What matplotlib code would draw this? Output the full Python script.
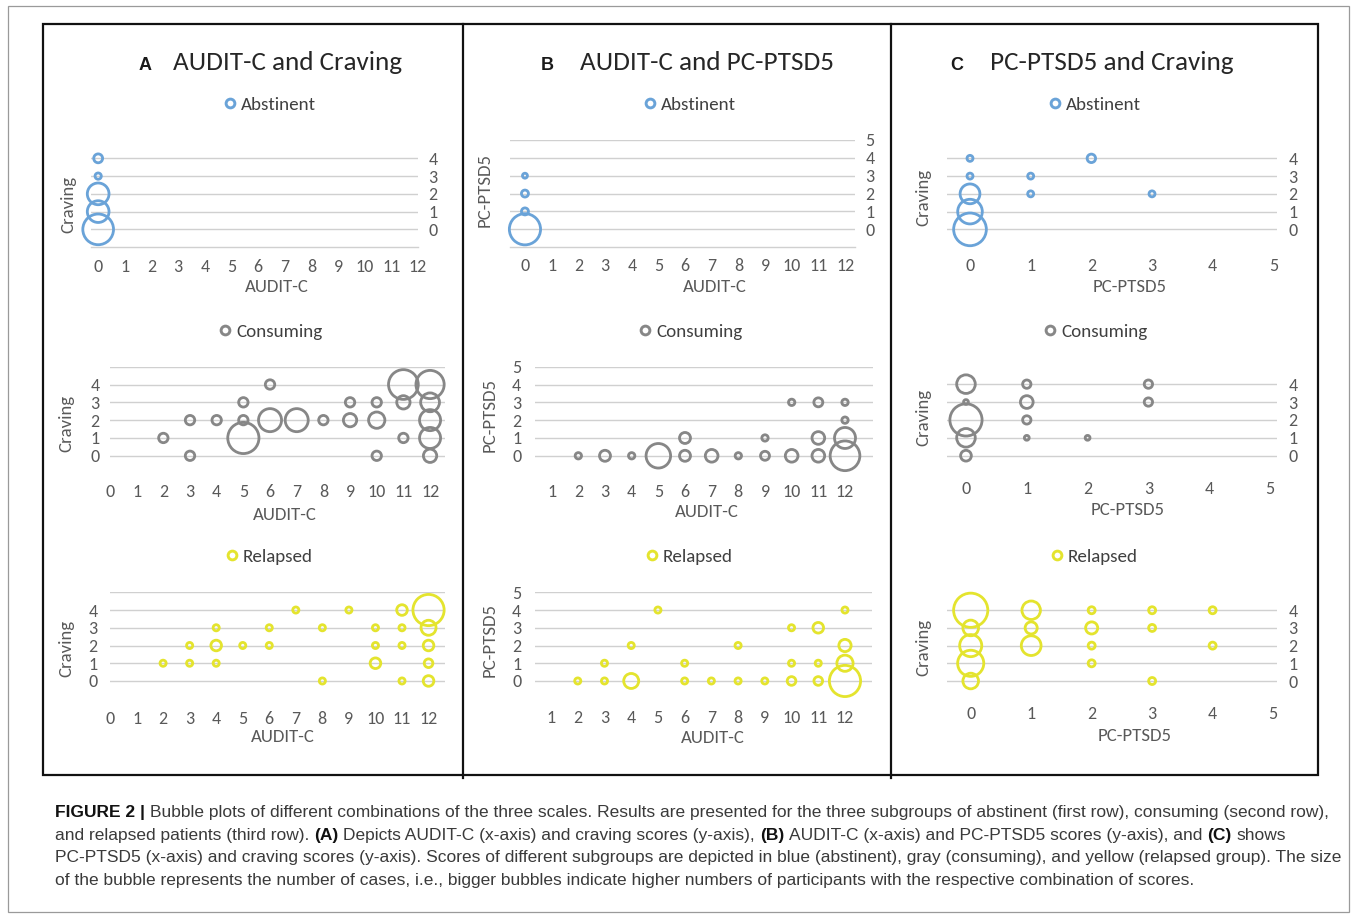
import matplotlib
matplotlib.use("Agg")
import matplotlib.pyplot as plt
from matplotlib.lines import Line2D
from matplotlib.patches import Rectangle
from matplotlib import font_manager as fm

W, H, DPI = 1357, 918, 100

# ----------------------------- data -----------------------------
# counts = number of cases at each score combination (bubble area)
# Panel A: AUDIT-C (x) vs Craving (y)
A_abst_x = [0, 0, 0, 0, 0]
A_abst_y = [4, 3, 2, 1, 0]
A_abst_n = [2, 1, 12, 12, 24]

A_cons_x = [2, 3, 3, 4, 5, 5, 5, 6, 6, 7, 8, 9, 9, 10, 10, 10, 11, 11, 11, 12, 12, 12, 12, 12]
A_cons_y = [1, 2, 0, 2, 3, 2, 1, 4, 2, 2, 2, 3, 2, 3, 2, 0, 4, 3, 1, 4, 3, 2, 1, 0]
A_cons_n = [1, 1, 1, 1, 1, 1, 11, 1, 6, 6, 1, 1, 2, 1, 3, 1, 10, 2, 1, 9, 4, 5, 5, 2]

A_rel_x = [2, 3, 3, 4, 4, 4, 5, 6, 6, 7, 8, 8, 9, 10, 10, 10, 11, 11, 11, 11, 12, 12, 12, 12, 12]
A_rel_y = [1, 2, 1, 3, 2, 1, 2, 3, 2, 4, 3, 0, 4, 3, 2, 1, 4, 3, 2, 0, 4, 3, 2, 1, 0]
A_rel_n = [1, 1, 1, 1, 3, 1, 1, 1, 1, 1, 1, 1, 1, 1, 1, 3, 3, 1, 1, 1, 26, 6, 3, 2, 3]

# Panel B: AUDIT-C (x) vs PC-PTSD5 (y)
B_abst_x = [0, 0, 0, 0]
B_abst_y = [3, 2, 1, 0]
B_abst_n = [1, 2, 2, 40]

B_cons_x = [2, 3, 4, 5, 6, 6, 7, 8, 9, 9, 10, 10, 11, 11, 11, 12, 12, 12, 12]
B_cons_y = [0, 0, 0, 0, 1, 0, 0, 0, 1, 0, 3, 0, 3, 1, 0, 3, 2, 1, 0]
B_cons_n = [1, 3, 1, 15, 3, 3, 4, 1, 1, 2, 1, 4, 2, 4, 4, 1, 1, 11, 22]

B_rel_x = [2, 3, 3, 4, 4, 5, 6, 6, 7, 8, 8, 9, 10, 10, 10, 11, 11, 11, 12, 12, 12, 12]
B_rel_y = [0, 1, 0, 2, 0, 4, 1, 0, 0, 2, 0, 0, 3, 1, 0, 3, 1, 0, 4, 2, 1, 0]
B_rel_n = [1, 1, 1, 1, 6, 1, 1, 1, 1, 1, 1, 1, 1, 1, 2, 3, 1, 2, 1, 4, 7, 26]

# Panel C: PC-PTSD5 (x) vs Craving (y)
C_abst_x = [0, 0, 0, 0, 0, 1, 1, 2, 3]
C_abst_y = [4, 3, 2, 1, 0, 3, 2, 4, 2]
C_abst_n = [1, 1, 11, 17, 30, 1, 1, 2, 1]

C_cons_x = [0, 0, 0, 0, 0, 1, 1, 1, 1, 2, 3, 3]
C_cons_y = [4, 3, 2, 1, 0, 4, 3, 2, 1, 1, 4, 3]
C_cons_n = [15, 1, 45, 15, 5, 3, 7, 3, 1, 1, 3, 3]

C_rel_x = [0, 0, 0, 0, 0, 1, 1, 1, 2, 2, 2, 2, 3, 3, 3, 4, 4]
C_rel_y = [4, 3, 2, 1, 0, 4, 3, 2, 4, 3, 2, 1, 4, 3, 0, 4, 2]
C_rel_n = [24, 5, 10, 14, 5, 7, 3, 8, 1, 3, 1, 1, 1, 1, 1, 1, 1]

GROUPS = ["Abstinent", "Consuming", "Relapsed"]
COLORS = {"Abstinent": "#6aa3d8", "Consuming": "#878787", "Relapsed": "#e4e42e"}
AUDIT_TICKS_0 = list(range(0, 13))
AUDIT_TICKS_1 = list(range(1, 13))
PTSD_X_TICKS = list(range(0, 6))
CRAVING_LEVELS = [0, 1, 2, 3, 4]
PTSD_LEVELS = [0, 1, 2, 3, 4, 5]
TITLES = {"A": "AUDIT-C and Craving", "B": "AUDIT-C and PC-PTSD5", "C": "PC-PTSD5 and Craving"}
XLABELS = {"A": "AUDIT-C", "B": "AUDIT-C", "C": "PC-PTSD5"}
YLABELS = {"A": "Craving", "B": "PC-PTSD5", "C": "Craving"}

CAPTION = [
    [("FIGURE 2 |", "bold", False),
     ("Bubble plots of different combinations of the three scales. Results are presented for the three "
      "subgroups of abstinent (first row), consuming (second row),", "normal", True)],
    [("and relapsed patients (third row).", "normal", False), ("(A)", "bold", True),
     ("Depicts AUDIT-C (x-axis) and craving scores (y-axis),", "normal", True), ("(B)", "bold", True),
     ("AUDIT-C (x-axis) and PC-PTSD5 scores (y-axis), and", "normal", True), ("(C)", "bold", True),
     ("shows", "normal", True)],
    [("PC-PTSD5 (x-axis) and craving scores (y-axis). Scores of different subgroups are depicted in blue "
      "(abstinent), gray (consuming), and yellow (relapsed group). The size", "normal", False)],
    [("of the bubble represents the number of cases, i.e., bigger bubbles indicate higher numbers of "
      "participants with the respective combination of scores.", "normal", False)],
]

# ----------------------------- fonts -----------------------------
names = {f.name for f in fm.fontManager.ttflist}
FONT = [f for f in ["Carlito", "Lato", "DejaVu Sans"] if f in names]
CAP_FONT = [f for f in ["Liberation Sans Narrow", "Liberation Sans", "DejaVu Sans"] if f in names]
BOLD_FONT = [f for f in ["Liberation Sans", "DejaVu Sans"] if f in names]
plt.rcParams["font.family"] = FONT

TICK_COLOR = "#595959"
GRID_COLOR = "#d0d0d0"

fig = plt.figure(figsize=(W / DPI, H / DPI), dpi=DPI)
fig.patch.set_facecolor("white")
renderer = fig.canvas.get_renderer()


def fx(x):
    return x / W


def fy(y):
    return 1 - y / H


# ----------------------------- panel layout -----------------------------
# box = (left, right, top, bottom) in pixels
PANELS = [
    dict(col="A", g="Abstinent", x=A_abst_x, y=A_abst_y, n=A_abst_n, box=(90.7, 418, 150, 247.3),
         xlim=(-0.28, 11.93), ylim=(-1.01, 4.47), xt=AUDIT_TICKS_0, grid=CRAVING_LEVELS, ylab=CRAVING_LEVELS,
         side="right", base=True, xpad=19.4, ypad=15, ylc=(68, 204), xlc=(277, 287), leg=(230, 105), dmax=33.5),
    dict(col="B", g="Abstinent", x=B_abst_x, y=B_abst_y, n=B_abst_n, box=(510, 855, 140, 247.3),
         xlim=(-0.56, 12.36), ylim=(-1.01, 5.0), xt=AUDIT_TICKS_0, grid=PTSD_LEVELS, ylab=PTSD_LEVELS,
         side="right", base=True, xpad=17.7, ypad=15, ylc=(485, 190), xlc=(715, 287), leg=(650, 105), dmax=34),
    dict(col="C", g="Abstinent", x=C_abst_x, y=C_abst_y, n=C_abst_n, box=(946.7, 1276.7, 150, 247.3),
         xlim=(-0.384, 5.055), ylim=(-1.01, 4.47), xt=PTSD_X_TICKS, grid=CRAVING_LEVELS, ylab=CRAVING_LEVELS,
         side="right", base=False, xpad=17.7, ypad=16.3, ylc=(923, 197), xlc=(1130, 287), leg=(1055, 105), dmax=35.5),
    dict(col="A", g="Consuming", x=A_cons_x, y=A_cons_y, n=A_cons_n, box=(110, 445, 366.7, 473.6),
         xlim=(0.063, 12.56), ylim=(-1, 5), xt=AUDIT_TICKS_0, grid=PTSD_LEVELS, ylab=CRAVING_LEVELS,
         side="left", base=False, xpad=18.1, ypad=15, ylc=(66.7, 423), xlc=(285, 515), leg=(225, 331.7), dmax=34),
    dict(col="B", g="Consuming", x=B_cons_x, y=B_cons_y, n=B_cons_n, box=(535, 873, 366.7, 473.6),
         xlim=(0.375, 13.05), ylim=(-1, 5), xt=AUDIT_TICKS_1, grid=PTSD_LEVELS, ylab=PTSD_LEVELS,
         side="left", base=False, xpad=18.1, ypad=18.3, ylc=(490, 415), xlc=(707, 512), leg=(645, 331.7), dmax=32.5),
    dict(col="C", g="Consuming", x=C_cons_x, y=C_cons_y, n=C_cons_n, box=(946.7, 1276.7, 375.2, 473.6),
         xlim=(-0.317, 5.11), ylim=(-1, 4.5), xt=PTSD_X_TICKS, grid=CRAVING_LEVELS, ylab=CRAVING_LEVELS,
         side="right", base=False, xpad=14.4, ypad=16.3, ylc=(923, 417), xlc=(1128, 510), leg=(1050, 331.7), dmax=35),
    dict(col="A", g="Relapsed", x=A_rel_x, y=A_rel_y, n=A_rel_n, box=(110, 445, 592.3, 698.7),
         xlim=(0.064, 12.62), ylim=(-1, 5), xt=AUDIT_TICKS_0, grid=PTSD_LEVELS, ylab=CRAVING_LEVELS,
         side="left", base=False, xpad=19, ypad=17, ylc=(66.7, 648), xlc=(283, 737), leg=(231.7, 556.7), dmax=34),
    dict(col="B", g="Relapsed", x=B_rel_x, y=B_rel_y, n=B_rel_n, box=(535, 871.7, 592.3, 698.7),
         xlim=(0.40, 13.0), ylim=(-1, 5), xt=AUDIT_TICKS_1, grid=PTSD_LEVELS, ylab=PTSD_LEVELS,
         side="left", base=False, xpad=18, ypad=18.3, ylc=(490, 640), xlc=(713, 738), leg=(651.7, 556.7), dmax=34),
    dict(col="C", g="Relapsed", x=C_rel_x, y=C_rel_y, n=C_rel_n, box=(946.7, 1276.7, 601.4, 698.7),
         xlim=(-0.397, 5.06), ylim=(-1, 4.5), xt=PTSD_X_TICKS, grid=CRAVING_LEVELS, ylab=CRAVING_LEVELS,
         side="right", base=False, xpad=14.3, ypad=16.3, ylc=(923, 647), xlc=(1135, 736), leg=(1056.7, 556.7), dmax=37),
]

LW_PX = 2.8
TICK_FS = 13
LABEL_FS = 13.5
LEG_FS = 13.7

for p in PANELS:
    l, r, t, b = p["box"]
    ax = fig.add_axes([fx(l), fy(b), (r - l) / W, (b - t) / H])
    ax.set_facecolor("none")
    ax.set_xlim(*p["xlim"])
    ax.set_ylim(*p["ylim"])
    for s in ax.spines.values():
        s.set_visible(False)
    if p["base"]:
        ax.spines["bottom"].set_visible(True)
        ax.spines["bottom"].set_color(GRID_COLOR)
        ax.spines["bottom"].set_linewidth(1.0)
    # gridlines
    for gv in p["grid"]:
        ax.axhline(gv, color=GRID_COLOR, lw=1.0, zorder=1)
    ax.set_yticks(p["ylab"], [str(v) for v in p["ylab"]])
    ax.set_xticks(p["xt"], [str(v) for v in p["xt"]])
    ax.tick_params(axis="x", length=0, pad=(p["xpad"] - 7.2) * 0.72, labelsize=TICK_FS, colors=TICK_COLOR)
    ax.tick_params(axis="y", length=0, pad=(p["ypad"] - 4.5) * 0.72, labelsize=TICK_FS, colors=TICK_COLOR)
    if p["side"] == "right":
        ax.yaxis.tick_right()
    # bubbles: area proportional to count, largest bubble scaled to dmax px outer
    nmax = max(p["n"])
    dpt = (p["dmax"] - LW_PX) * 72 / DPI
    sizes = [dpt ** 2 * v / nmax for v in p["n"]]
    color = COLORS[p["g"]]
    ax.scatter(p["x"], p["y"], s=sizes, facecolors="none", edgecolors=color,
               linewidths=LW_PX * 72 / DPI, clip_on=False, zorder=3)
    # axis titles
    ax.set_xlabel(XLABELS[p["col"]], fontsize=LABEL_FS, color=TICK_COLOR, va="center")
    ax.set_ylabel(YLABELS[p["col"]], fontsize=LABEL_FS, color=TICK_COLOR, va="center")
    ax.xaxis.set_label_coords((p["xlc"][0] - l) / (r - l), (b - p["xlc"][1]) / (b - t))
    ax.yaxis.set_label_coords((p["ylc"][0] - l) / (r - l), (b - p["ylc"][1]) / (b - t))
    # legend
    hl_px = 0.8 * LEG_FS * DPI / 72
    handle = Line2D([], [], ls="none", marker="o", ms=6.3, mfc="none", mec=color, mew=2.1)
    ax.legend([handle], [p["g"]], loc="center left",
              bbox_to_anchor=(fx(p["leg"][0] - hl_px / 2), fy(p["leg"][1])),
              bbox_transform=fig.transFigure, frameon=False, borderpad=0, borderaxespad=0,
              handlelength=0.8, handletextpad=0.2, prop=dict(size=LEG_FS), labelcolor="#404040")

# ----------------------------- titles -----------------------------
TITLE_POS = {"A": (138.3, 173.3), "B": (541, 580), "C": (950, 990)}
for col, (xl, xt) in TITLE_POS.items():
    fig.text(fx(xl), fy(69.5), col, fontsize=13, fontweight="bold", family=BOLD_FONT,
             color="#1a1a1a", va="baseline", ha="left")
    fig.text(fx(xt), fy(69.5), TITLES[col], fontsize=19.5, color="#262626", va="baseline", ha="left")

# ----------------------------- frames -----------------------------
fig.add_artist(Rectangle((fx(8), fy(912)), (1349 - 8) / W, (912 - 6) / H, transform=fig.transFigure,
                         fill=False, edgecolor="#9a9a9a", lw=0.9))
fig.add_artist(Rectangle((fx(43), fy(775)), (1318 - 43) / W, (775 - 24) / H, transform=fig.transFigure,
                         fill=False, edgecolor="#111111", lw=1.6))
for xd in (463, 890.7):
    fig.add_artist(Line2D([fx(xd), fx(xd)], [fy(24), fy(778)], transform=fig.transFigure,
                          color="#111111", lw=1.6))

# ----------------------------- caption -----------------------------
CAP_COLOR = "#3a3a3a"


def seg_width(txt, size, weight):
    t = fig.text(0, 0, txt, fontsize=size, fontweight=weight, family=CAP_FONT)
    w = t.get_window_extent(renderer=renderer).width
    t.remove()
    return w


def line_width(segs, size):
    sp = seg_width("x x", size, "normal") - seg_width("xx", size, "normal")
    total = 0
    for txt, wt, space in segs:
        if space:
            total += sp
        total += seg_width(txt, size, wt)
    return total


base = 10.0
cap_size = min(base * 1290 / line_width(CAPTION[0], base), base * 1283 / line_width(CAPTION[2], base))
space_w = seg_width("x x", cap_size, "normal") - seg_width("xx", cap_size, "normal")
BASELINES = [817, 840, 862, 885]
for segs, yb in zip(CAPTION, BASELINES):
    x = 55
    for txt, wt, space in segs:
        if space:
            x += space_w
        tt = fig.text(fx(x), fy(yb), txt, fontsize=cap_size, fontweight=wt, family=CAP_FONT,
                      color="#111111" if wt == "bold" else CAP_COLOR, va="baseline", ha="left")
        x += tt.get_window_extent(renderer=renderer).width

fig.savefig("out.png", dpi=DPI, facecolor="white")
